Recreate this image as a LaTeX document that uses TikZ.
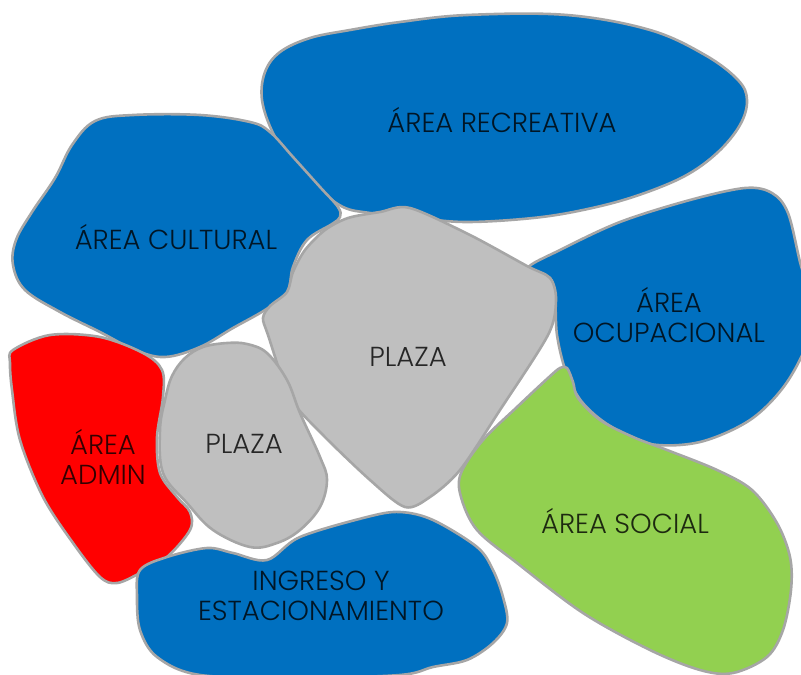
\documentclass[tikz,border=0pt]{standalone}
\usepackage{fontspec}
\setmainfont{Poppins Light}
\definecolor{zblue}{HTML}{0070C0}
\definecolor{zred}{HTML}{FF0000}
\definecolor{zgray}{HTML}{BFBFBF}
\definecolor{zgreen}{HTML}{92D050}
\definecolor{zline}{HTML}{A6A6A6}
\begin{document}
\begin{tikzpicture}[x=1pt,y=-1pt,
  blob/.style={draw=zline,line width=2.6pt,line join=round},
  lbl/.style={text=black,text opacity=0.8,align=center,inner sep=0pt,font=\fontsize{27.5}{30}\selectfont}]
\useasboundingbox (0,0) rectangle (801,675);
\clip (0,0) rectangle (801,675);
% recreativa
\draw[blob,fill=zblue] plot[smooth cycle,tension=0.6] coordinates {
 (262,100) (265,72) (280,52) (310,38) (350,30) (400,22) (467,15) (567,15) (650,30) (705,55) (738,80) (747,100) (740,125) (717,153) (683,177) (633,197) (583,210) (533,218) (467,222) (417,218) (370,213) (343,207) (318,188) (293,163) (273,133)};
% cultural
\draw[blob,fill=zblue] plot[smooth cycle,tension=0.6] coordinates {
 (95,121) (133,115) (200,115) (250,122) (270,132) (293,157) (320,187) (338,207) (340,217) (332,224) (307,240) (293,267) (287,293) (265,310) (233,328) (200,347) (165,357) (135,350) (100,332) (60,312) (25,290) (13,265) (16,240) (32,212) (55,178) (72,145)};
% ocupacional
\draw[blob,fill=zblue] plot[smooth cycle,tension=0.55] coordinates {
 (528,268) (560,250) (620,222) (690,200) (745,188) (772,193) (788,213) (800,262) (810,300) (808,340) (785,385) (750,420) (700,442) (650,444) (610,426) (582,402) (566,372) (557,335) (555,298) (550,278)};
% social
\draw[blob,fill=zgreen] plot[smooth cycle,tension=0.55] coordinates {
 (567,368) (573,382) (578,398) (600,420) (633,437) (667,450) (717,470) (752,490) (777,523) (790,557) (791,590) (783,630) (767,657) (733,673) (700,670) (650,650) (583,613) (517,563) (477,530) (461,497) (461,473) (483,440) (517,407) (548,378) (560,368)};
% big plaza
\draw[blob,fill=zgray] plot[smooth cycle,tension=0.5] coordinates {
 (410,208) (470,235) (527,266) (550,278) (556,300) (548,335) (500,410) (460,470) (430,497) (405,507) (370,480) (320,432) (290,397) (268,335) (263,318) (270,306) (287,292) (293,272) (305,250) (325,230) (348,218) (380,212)};
% small plaza
\draw[blob,fill=zgray] plot[smooth cycle,tension=0.6] coordinates {
 (227,343) (203,347) (185,358) (172,376) (165,400) (160,430) (163,473) (187,503) (213,530) (250,547) (277,543) (300,530) (320,507) (327,480) (320,457) (300,413) (287,380) (267,353) (247,344)};
% admin
\draw[blob,fill=zred] plot[smooth cycle,tension=0.55] coordinates {
 (13,350) (50,335) (100,337) (143,353) (162,370) (163,397) (157,437) (160,473) (177,497) (190,512) (190,530) (167,557) (140,573) (117,583) (100,577) (73,543) (43,497) (20,440) (12,390) (10,363)};
% ingreso
\draw[blob,fill=zblue] plot[smooth cycle,tension=0.55] coordinates {
 (140,570) (167,557) (207,548) (233,553) (267,560) (300,537) (367,517) (400,512) (433,520) (477,547) (493,570) (503,597) (507,623) (493,643) (467,660) (433,667) (400,675) (300,678) (200,675) (157,657) (140,630) (137,597)};
% labels
\node[lbl] (rec) at (502,120) {ÁREA RECREATIVA};
\node[lbl] (cul) at (176,237) {ÁREA CULTURAL};
\node[lbl] (ocu) at (669,315) {ÁREA\\OCUPACIONAL};
\node[lbl] (pl1) at (408,357) {PLAZA};
\node[lbl] (pl2) at (244,444) {PLAZA};
\node[lbl] (adm) at (103,457) {ÁREA\\ADMIN};
\node[lbl] (soc) at (625,521) {ÁREA SOCIAL};
\node[lbl] (ing) at (321,596) {INGRESO Y\\ESTACIONAMIENTO};
\end{tikzpicture}
\end{document}
